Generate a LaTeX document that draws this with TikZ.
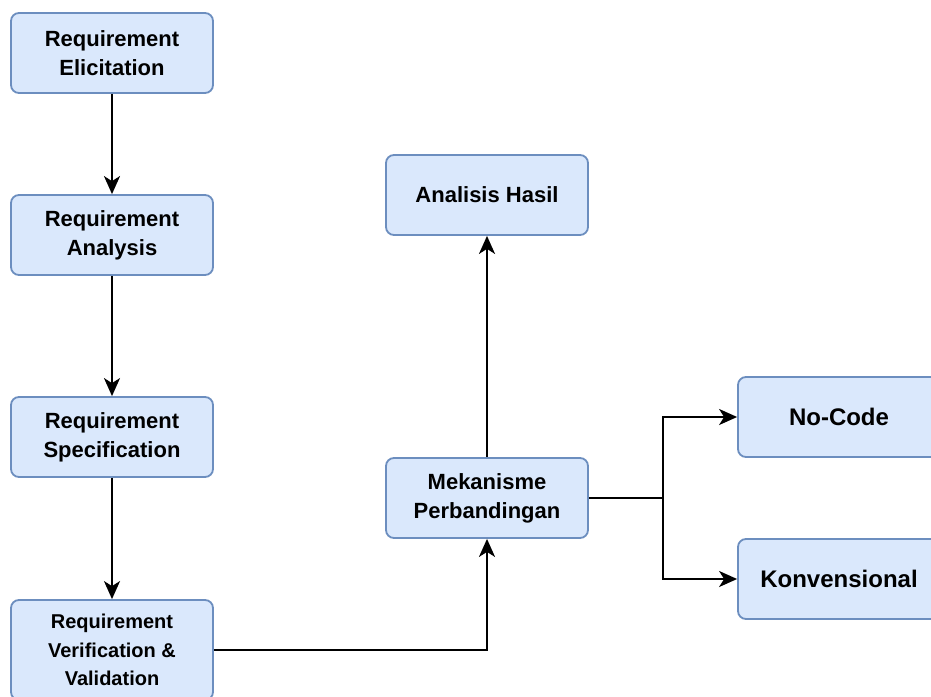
\documentclass[tikz,border=0pt]{standalone}
\usepackage{fontspec}
\setmainfont{Liberation Sans}
\usetikzlibrary{arrows.meta,positioning}
\definecolor{boxfill}{HTML}{DAE8FC}
\definecolor{boxline}{HTML}{6C8EBF}
\tikzset{
  stage/.style={rectangle,rounded corners=8pt,draw=boxline,fill=boxfill,line width=1.8pt,
    minimum width=202pt,minimum height=80pt,align=center,inner sep=2pt,
    font=\fontsize{22}{29}\selectfont\bfseries},
  stagebig/.style={stage,font=\fontsize{24}{29}\selectfont\bfseries},
  stagesm/.style={stage,minimum height=100pt,font=\fontsize{20}{28.5}\selectfont\bfseries},
  arr/.style={-{Stealth[length=18pt,width=16pt,inset=5pt]},line width=2.1pt,draw=black},
  ln/.style={line width=2.1pt,draw=black},
}
\begin{document}
\begin{tikzpicture}[x=1pt,y=-1pt]
\useasboundingbox (0,0) rectangle (931,696);
% --- requirement chain
\node[stage] (elic) at (112,53) {Requirement\\Elicitation};
\node[stage] (anal) at (112,235) {Requirement\\Analysis};
\node[stage] (spec) at (112,437) {Requirement\\Specification};
\node[stagesm] (verif) at (112,650) {Requirement\\Verification \&\\Validation};
% --- comparison
\node[stage] (mek) at (487,498) {Mekanisme\\Perbandingan};
\node[stage] (hasil) at (487,195) {Analisis Hasil};
\node[stagebig] (nocode) at (839,417) {No-Code};
\node[stagebig] (konv) at (839,579) {Konvensional};
\coordinate (split) at (663,498);
\draw[arr] (elic) -- (anal);
\draw[arr] (anal) -- (spec);
\draw[arr] (spec) -- (verif);
\draw[arr] (verif.east) -| (mek.south);
\draw[arr] (mek) -- (hasil);
\draw[ln] (mek.east) -- (split);
\draw[arr] (split) |- (nocode.west);
\draw[arr] (split) |- (konv.west);
\end{tikzpicture}
\end{document}
